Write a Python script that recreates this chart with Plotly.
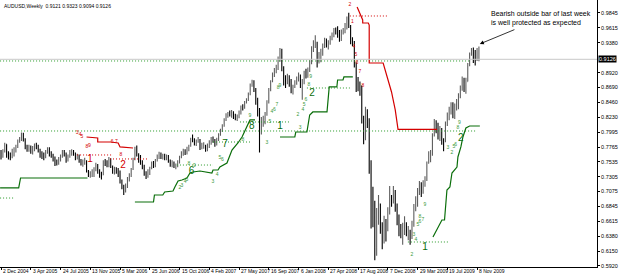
import plotly.graph_objects as go

# ---------------- data (weekly AUDUSD, prices in pips x 1e-4) ----------------
first_open_pips = 7700
close_pips = [
    7640, 7700, 7810, 7640, 7640, 7620, 7700, 7710, 7760, 7860,
    7890, 7960, 7880, 7760, 7740, 7760, 7680, 7740, 7790, 7770,
    7720, 7640, 7640, 7600, 7700, 7730, 7660, 7620, 7600, 7520,
    7510, 7570, 7630, 7690, 7660, 7560, 7620, 7680, 7700, 7660,
    7600, 7640, 7560, 7520, 7530, 7540, 7390, 7330, 7340, 7350,
    7420, 7490, 7380, 7340, 7330, 7540, 7510, 7480, 7580, 7460,
    7380, 7420, 7390, 7370, 7230, 7140, 7110, 7160, 7270, 7320,
    7420, 7580, 7720, 7650, 7600, 7520, 7480, 7360, 7310, 7390,
    7430, 7510, 7460, 7560, 7620, 7640, 7620, 7630, 7590, 7630,
    7550, 7500, 7520, 7460, 7480, 7530, 7600, 7680, 7700, 7680,
    7740, 7780, 7890, 7870, 7820, 7860, 7880, 7760, 7770, 7780,
    7740, 7800, 7820, 7890, 7870, 7810, 7880, 7950, 8010, 8090,
    8180, 8260, 8290, 8280, 8290, 8250, 8210, 8240, 8290, 8390,
    8370, 8460, 8490, 8580, 8730, 8790, 8660, 8480, 8340, 8010,
    8170, 8190, 8270, 8460, 8640, 8780, 8890, 8960, 9000, 9140,
    9260, 9000, 8800, 8770, 8850, 8780, 8630, 8700, 8770, 8820,
    8880, 8710, 8770, 8920, 8890, 8950, 9070, 9300, 9340, 9380,
    9130, 9170, 9190, 9330, 9420, 9350, 9370, 9460, 9480, 9580,
    9560, 9540, 9420, 9540, 9580, 9630, 9760, 9630, 9420, 9400,
    9060, 8780, 8730, 8700, 8190, 8060, 8290, 8200, 7520, 6840,
    6710, 6220, 6630, 6800, 6450, 6330, 6590, 6510, 6730, 7000,
    6920, 7090, 6820, 6640, 6500, 6390, 6490, 6570, 6430, 6440,
    6370, 6540, 6820, 6880, 7090, 7160, 7120, 7190, 7270, 7510,
    7580, 7640, 7950, 8090, 8080, 7930, 8040, 7850, 7850, 8140,
    8270, 8350, 8400, 8370, 8410, 8460, 8560, 8680, 8820, 8740,
    8780, 9040, 9220, 9260, 9180, 9120, 9121, 9126,
]
high_pips = [
    7720, 7730, 7830, 7810, 7700, 7680, 7740, 7760, 7800, 7880,
    7920, 7990, 7985, 7900, 7800, 7800, 7790, 7780, 7820, 7830,
    7800, 7740, 7700, 7680, 7720, 7760, 7760, 7700, 7660, 7620,
    7570, 7610, 7650, 7720, 7720, 7680, 7650, 7720, 7730, 7720,
    7680, 7660, 7650, 7580, 7570, 7600, 7560, 7410, 7390, 7420,
    7450, 7520, 7500, 7420, 7380, 7560, 7580, 7560, 7610, 7590,
    7480, 7460, 7450, 7440, 7400, 7260, 7180, 7200, 7300, 7360,
    7440, 7600, 7770, 7790, 7670, 7640, 7560, 7490, 7390, 7420,
    7460, 7540, 7550, 7580, 7650, 7690, 7680, 7660, 7660, 7650,
    7640, 7570, 7560, 7540, 7510, 7560, 7630, 7700, 7740, 7730,
    7770, 7800, 7910, 7960, 7900, 7880, 7920, 7890, 7830, 7840,
    7800, 7820, 7870, 7920, 7930, 7890, 7910, 7980, 8050, 8120,
    8210, 8290, 8310, 8330, 8340, 8320, 8280, 8270, 8330, 8410,
    8430, 8480, 8520, 8610, 8750, 8810, 8800, 8680, 8530, 8370,
    8230, 8250, 8310, 8490, 8680, 8800, 8920, 8990, 9040, 9170,
    9300, 9290, 9020, 8880, 8900, 8880, 8820, 8730, 8800, 8860,
    8920, 8890, 8820, 8950, 8980, 9000, 9110, 9330, 9420, 9500,
    9400, 9240, 9290, 9370, 9460, 9450, 9420, 9490, 9540, 9610,
    9620, 9640, 9580, 9590, 9610, 9690, 9790, 9850, 9660, 9470,
    9410, 9080, 8850, 8780, 8720, 8250, 8390, 8350, 8210, 7560,
    7150, 6930, 6820, 7020, 6890, 6600, 6700, 6650, 6830, 7160,
    7020, 7160, 7100, 6890, 6720, 6570, 6590, 6690, 6600, 6540,
    6480, 6620, 6880, 7000, 7130, 7240, 7220, 7250, 7310, 7540,
    7700, 7720, 7980, 8200, 8180, 8140, 8090, 8060, 7900, 8160,
    8300, 8390, 8460, 8460, 8440, 8510, 8600, 8720, 8860, 8840,
    8840, 9070, 9230, 9300, 9310, 9270, 9300, 9323,
]
low_pips = [
    7570, 7600, 7680, 7600, 7570, 7560, 7590, 7620, 7680, 7750,
    7830, 7860, 7850, 7730, 7690, 7690, 7660, 7650, 7700, 7730,
    7680, 7600, 7580, 7560, 7590, 7660, 7620, 7600, 7540, 7470,
    7480, 7490, 7540, 7600, 7620, 7520, 7540, 7600, 7630, 7630,
    7560, 7570, 7520, 7480, 7460, 7490, 7370, 7300, 7290, 7300,
    7300, 7390, 7350, 7290, 7260, 7330, 7470, 7450, 7450, 7440,
    7350, 7340, 7350, 7300, 7200, 7110, 7020, 7060, 7130, 7230,
    7300, 7410, 7560, 7620, 7520, 7490, 7420, 7320, 7270, 7290,
    7330, 7420, 7440, 7450, 7540, 7580, 7580, 7570, 7560, 7560,
    7520, 7460, 7450, 7440, 7420, 7450, 7510, 7590, 7630, 7640,
    7650, 7700, 7770, 7840, 7790, 7780, 7830, 7720, 7730, 7740,
    7690, 7700, 7750, 7800, 7830, 7770, 7790, 7860, 7940, 8000,
    8080, 8170, 8220, 8240, 8220, 8200, 8180, 8170, 8210, 8270,
    8330, 8360, 8440, 8480, 8570, 8700, 8620, 8420, 8240, 7680,
    7960, 8080, 8120, 8250, 8440, 8630, 8770, 8850, 8910, 8960,
    9090, 8940, 8720, 8680, 8740, 8700, 8600, 8580, 8680, 8730,
    8780, 8680, 8500, 8740, 8830, 8840, 8930, 9050, 9240, 9300,
    9000, 9060, 9080, 9180, 9300, 9310, 9280, 9350, 9420, 9470,
    9510, 9460, 9400, 9410, 9510, 9530, 9590, 9610, 9360, 9330,
    9000, 8620, 8630, 8560, 8130, 7810, 7870, 8060, 7350, 6500,
    6520, 6010, 6080, 6560, 6420, 6180, 6270, 6300, 6460, 6720,
    6840, 6890, 6760, 6550, 6380, 6350, 6250, 6400, 6380, 6320,
    6250, 6340, 6530, 6770, 6840, 7020, 6990, 7040, 7150, 7240,
    7530, 7530, 7630, 7930, 7980, 7880, 7860, 7800, 7700, 7840,
    8090, 8180, 8270, 8210, 8200, 8330, 8350, 8520, 8640, 8620,
    8590, 8800, 9020, 9180, 9070, 9030, 9100, 9094,
]

date_labels = ["2 Dec 2004", "3 Apr 2005", "24 Jul 2005", "13 Nov 2005", "5 Mar 2006",
               "25 Jun 2006", "15 Oct 2006", "4 Feb 2007", "27 May 2007", "16 Sep 2007",
               "6 Jan 2008", "27 Apr 2008", "17 Aug 2008", "7 Dec 2008", "29 Mar 2009",
               "19 Jul 2009", "8 Nov 2009"]
date_label_bars = [0, 16, 32, 48, 64, 80, 96, 112, 128, 144, 160, 176, 192, 208, 224, 240, 256]
price_ticks = [0.5920, 0.6150, 0.6380, 0.6615, 0.6845, 0.7075, 0.7305, 0.7535, 0.7765,
               0.7995, 0.8230, 0.8460, 0.8690, 0.8920, 0.9380, 0.9615, 0.9845]
last_price = 0.9126
title_text = "AUDUSD,Weekly  0.9121 0.9323 0.9094 0.9126"
note_text = "Bearish outside bar of last week<br>is well protected as expected"

# stepped stop lines (bar index, price)
red_line1_x = [46, 52, 52, 59, 63, 64, 71]
red_line1_y = [0.7921, 0.7905, 0.7843, 0.7843, 0.7828, 0.7766, 0.7750]
red_line2_x = [191.5, 194.5, 194.5, 197.5, 198, 198, 205.5, 208, 210, 212, 213.5, 234.5]
red_line2_y = [0.9938, 0.9736, 0.9689, 0.9689, 0.9658, 0.9069, 0.9069, 0.8805, 0.8619, 0.8340, 0.8040, 0.8040]
green_line1_x = [-0.5, 9.5, 10.5, 46.5]
green_line1_y = [0.7130, 0.7130, 0.7285, 0.7285]
green_line2_x = [72, 82, 82.5, 87, 88, 92.5, 93.5, 95.2, 97.3, 100, 101.6, 103.2, 107, 113.4,
                 114, 116.7, 117.7, 121.5, 124.2, 125.8, 127.4, 129.6, 131.2, 132.8, 133.9, 136.6]
green_line2_y = [0.6912, 0.6912, 0.7021, 0.7021, 0.7068, 0.7083, 0.7145, 0.7238, 0.7254, 0.7285,
                 0.7362, 0.7378, 0.7393, 0.7362, 0.7409, 0.7409, 0.7455, 0.7517, 0.7719, 0.7766,
                 0.7828, 0.7921, 0.8029, 0.8138, 0.8185, 0.8185]
green_line3_x = [150, 158, 158.5, 164.5, 166, 167.7, 175.3, 176.5, 180.6, 181, 183.9, 184.4, 189.2]
green_line3_y = [0.7921, 0.7921, 0.7998, 0.7998, 0.8262, 0.8309, 0.8309, 0.8697, 0.8697,
                 0.8805, 0.8805, 0.8852, 0.8852]
green_line4_x = [232.3, 234.4, 237.1, 238.5, 239.8, 241.4, 242.5, 245.2, 245.7, 247.3, 248.4, 250, 252, 257.5]
green_line4_y = [0.6369, 0.6478, 0.6633, 0.6633, 0.7099, 0.7145, 0.7362, 0.7455, 0.7611,
                 0.7766, 0.7921, 0.8060, 0.8091, 0.8091]

# dotted levels: (start bar, end bar, price)
green_levels = [(-0.5, 252.5, 0.9100), (-0.5, 255, 0.8014), (-0.5, 6.5, 0.6974),
                (94.6, 114, 0.7486), (114, 134, 0.7843), (128.5, 155.4, 0.8154),
                (164.5, 187.6, 0.8681), (218.8, 240.3, 0.6292)]
red_levels = [(40.9, 60.2, 0.7642), (58.6, 78.5, 0.7580), (187.6, 207.5, 0.9798)]

# count labels: (text, bar, price)
red_big = [("1", 47.8, 0.7564), ("2", 65.6, 0.7486)]
green_big = [("6", 102.5, 0.7380), ("7", 120.4, 0.7797), ("8", 134.9, 0.8076),
             ("1", 150.0, 0.8091), ("2", 167.2, 0.8603), ("1", 228.0, 0.6199),
             ("2", 247.3, 0.7905)]
red_small = [("3", 40.9, 0.7983), ("4", 42.5, 0.7952), ("5", 43.5, 0.7921),
             ("8", 46.2, 0.7766), ("9", 47.5, 0.7780), ("6", 59.7, 0.7843),
             ("7", 62.0, 0.7843), ("8", 64.5, 0.7642),
             ("2", 187.6, 0.9969), ("1", 189.0, 0.9705), ("4", 189.8, 0.9317),
             ("5", 190.9, 0.9193), ("6", 191.4, 0.9069), ("7", 193.0, 0.8929),
             ("8", 194.6, 0.8712)]
green_small = [("2", 96.2, 0.7130), ("3", 97.3, 0.7161), ("4", 99.0, 0.7223), ("5", 100.0, 0.7254),
               ("8", 101.0, 0.7500), ("9", 104.0, 0.7480),
               ("3", 114.0, 0.7223), ("4", 116.2, 0.7331), ("5", 117.7, 0.7594), ("6", 119.0, 0.7564),
               ("8", 130.1, 0.7874), ("9", 133.9, 0.8247),
               ("3", 143.0, 0.7828), ("5", 144.6, 0.8154), ("4", 145.7, 0.8309), ("6", 147.0, 0.8340),
               ("7", 148.4, 0.8417), ("8", 149.0, 0.8681), ("9", 150.0, 0.8712),
               ("2", 159.7, 0.8262), ("3", 160.8, 0.8060), ("4", 162.4, 0.8340), ("5", 163.0, 0.8417),
               ("6", 164.0, 0.8495), ("8", 165.5, 0.8728), ("9", 166.5, 0.8852),
               ("2", 221.0, 0.6090), ("3", 222.0, 0.6400), ("4", 223.1, 0.6323), ("5", 224.2, 0.6556),
               ("6", 225.3, 0.6602), ("7", 226.9, 0.6633), ("8", 225.3, 0.6680), ("9", 228.0, 0.6866),
               ("3", 240.3, 0.7750), ("2", 242.5, 0.7673), ("5", 243.5, 0.7766), ("6", 244.5, 0.7797),
               ("8", 245.7, 0.8060), ("9", 246.5, 0.8138)]

# ---------------- build ----------------
n = len(close_pips)
bars = list(range(n))
close = [c / 10000 for c in close_pips]
open_ = [first_open_pips / 10000] + close[:-1]
high = [max(h / 10000, o, c) for h, o, c in zip(high_pips, open_, close)]
low = [min(l / 10000, o, c) for l, o, c in zip(low_pips, open_, close)]

RED = "#d40000"
GREEN = "#0a6e0a"
GREEN_DOT = "#2a9a2a"
GREEN_TXT = "#3a9a3a"
FONT = "Liberation Sans, Arial, sans-serif"

fig = go.Figure()
fig.add_trace(go.Ohlc(
    x=bars, open=open_, high=high, low=low, close=close,
    increasing=dict(line=dict(color="#5e5e5e", width=1.1)),
    decreasing=dict(line=dict(color="#000000", width=1.1)),
    tickwidth=0.25, hoverinfo="skip", showlegend=False))

for x0, x1, y in green_levels:
    fig.add_trace(go.Scatter(x=[x0, x1], y=[y, y], mode="lines",
                             line=dict(color=GREEN_DOT, width=1, dash="1px,2px"),
                             hoverinfo="skip", showlegend=False))
for x0, x1, y in red_levels:
    fig.add_trace(go.Scatter(x=[x0, x1], y=[y, y], mode="lines",
                             line=dict(color=RED, width=1, dash="1px,2px"),
                             hoverinfo="skip", showlegend=False))

for xs, ys, col in [(red_line1_x, red_line1_y, RED), (red_line2_x, red_line2_y, RED),
                    (green_line1_x, green_line1_y, GREEN), (green_line2_x, green_line2_y, GREEN),
                    (green_line3_x, green_line3_y, GREEN), (green_line4_x, green_line4_y, GREEN)]:
    fig.add_trace(go.Scatter(x=xs, y=ys, mode="lines", line=dict(color=col, width=1.2),
                             hoverinfo="skip", showlegend=False))

def add_labels(items, color, size):
    fig.add_trace(go.Scatter(
        x=[it[1] for it in items], y=[it[2] for it in items], text=[it[0] for it in items],
        mode="text", textfont=dict(color=color, size=size, family=FONT),
        hoverinfo="skip", showlegend=False))

add_labels(red_small, RED, 5)
add_labels(green_small, GREEN_TXT, 5)
add_labels(red_big, RED, 10)
add_labels(green_big, GREEN, 10)

y_lo, y_hi = 0.5904, 1.0046
fig.update_layout(
    width=625, height=275,
    margin=dict(l=0, r=28, t=0, b=8, pad=0),
    paper_bgcolor="white", plot_bgcolor="white",
    font=dict(family=FONT, color="#000000"),
    showlegend=False,
    xaxis=dict(range=[-0.55, 320.5], rangeslider=dict(visible=False), showgrid=False,
               zeroline=False, showline=True, linecolor="#000000", linewidth=1,
               tickmode="array", tickvals=date_label_bars, showticklabels=False,
               ticks="outside", ticklen=2, tickcolor="#000000", automargin=False),
    yaxis=dict(range=[y_lo, y_hi], side="right", showgrid=False, zeroline=False,
               showline=True, linecolor="#000000", linewidth=1,
               tickmode="array", tickvals=price_ticks,
               ticktext=["%.4f" % v for v in price_ticks],
               ticks="outside", ticklen=2, tickcolor="#000000",
               tickfont=dict(size=5.5, color="#000000"), automargin=False),
)

# date labels sit to the right of their tick, just under the axis
for b, lab in zip(date_label_bars, date_labels):
    fig.add_annotation(x=b, xref="x", y=0, yref="paper", xanchor="left", yanchor="top",
                       text=lab, showarrow=False, borderpad=0, xshift=1, yshift=0,
                       font=dict(size=5, color="#000000", family=FONT))

fig.add_shape(type="line", xref="paper", x0=0, x1=1, yref="y", y0=last_price, y1=last_price,
              line=dict(color="#c8c8c8", width=1))

fig.add_annotation(xref="paper", yref="y", x=1.0, y=last_price, xanchor="left", yanchor="middle",
                   xshift=1, text="%.4f" % last_price, showarrow=False, bgcolor="#000000",
                   font=dict(size=5.5, color="#ffffff", family=FONT), borderpad=0)
fig.add_annotation(xref="paper", yref="paper", x=0.003, y=0.995, xanchor="left", yanchor="top",
                   text=title_text, showarrow=False, font=dict(size=5, color="#000000", family=FONT))
fig.add_annotation(x=257.5, y=0.9364, ax=276.9, ay=0.9596, axref="x", ayref="y",
                   xref="x", yref="y", text="", showarrow=True, arrowhead=2,
                   arrowsize=1, arrowwidth=0.8, arrowcolor="#000000")
fig.add_annotation(x=262.4, y=0.9922, xref="x", yref="y", xanchor="left", yanchor="top",
                   text=note_text, showarrow=False, align="left",
                   font=dict(size=7, color="#000000", family=FONT))

fig.write_html("out.html")
